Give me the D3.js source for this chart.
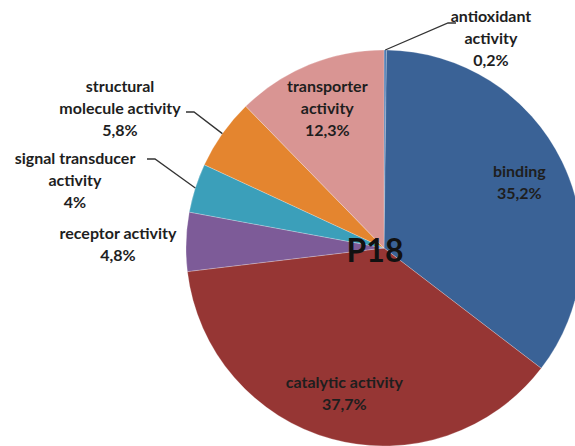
<!DOCTYPE html>
<html><head><meta charset="utf-8">
<script src="https://cdn.jsdelivr.net/npm/d3@7"></script>
<style>
html,body{margin:0;padding:0;background:#fff;overflow:hidden}
text{font-family:Lato,"Open Sans",sans-serif;font-weight:700;fill:#1e1e1e}
</style></head><body>
<svg id="c" width="575" height="446"></svg>
<script>
const categories = ["antioxidant activity","binding","catalytic activity","receptor activity","signal transducer activity","structural molecule activity","transporter activity"];
const values = [0.2, 35.2, 37.7, 4.8, 4, 5.8, 12.3];
const valueLabels = ["0,2%","35,2%","37,7%","4,8%","4%","5,8%","12,3%"];
const colors = ["#4a78b0","#3a6296","#963634","#7d5b98","#3b9fba","#e4852f","#d99593"];
const title = "P18";

// label layout (style, not data)
const labelLines = [
  ["antioxidant","activity"],["binding"],["catalytic activity"],["receptor activity"],
  ["signal transducer","activity"],["structural","molecule activity"],["transporter","activity"]
];
const outside = {
  0:{x:491,y:16, elbow:[448,23]},
  3:{x:118,y:233},
  4:{x:75,y:158, elbow:[147,159], hx:155},
  5:{x:120,y:86, elbow:[186,112], hx:194}
};

const svg = d3.select("#c");
const cx = 384, cy = 248, r = 198;
const g = svg.append("g").attr("transform",`translate(${cx},${cy})`);
const pie = d3.pie().sort(null).value(d=>d)(values);
const arc = d3.arc().innerRadius(0).outerRadius(r);
g.selectAll("path").data(pie).join("path")
  .attr("d",arc).attr("fill",(d,i)=>colors[i])
  .attr("stroke","#fff").attr("stroke-width",0.4).attr("stroke-opacity",0.6);

const lh = 22;
const fs = 16;
// inside labels
const inArc = d3.arc().innerRadius(r*0.76).outerRadius(r*0.76);
[1,2,6].forEach(i=>{
  const [x,y] = inArc.centroid(pie[i]);
  const lines = labelLines[i].concat([valueLabels[i]]);
  const y0 = y - (lines.length-1)*lh/2;
  const t = g.append("text").attr("text-anchor","middle").attr("font-size",fs);
  lines.forEach((s,k)=>t.append("tspan").attr("x",x).attr("y",y0+k*lh).attr("dy","0.35em").text(s));
});
// outside labels
Object.keys(outside).forEach(key=>{
  const i=+key, o=outside[i];
  const lines = labelLines[i].concat([valueLabels[i]]);
  const t = svg.append("text").attr("text-anchor","middle").attr("font-size",fs);
  lines.forEach((s,k)=>t.append("tspan").attr("x",o.x).attr("y",o.y+k*lh).attr("dy","0.35em").text(s));
  if(o.elbow){
    const a = (pie[i].startAngle+pie[i].endAngle)/2;
    const ex = cx + Math.sin(a)*r, ey = cy - Math.cos(a)*r;
    let pts;
    if(o.hx!==undefined) pts=[o.elbow,[o.hx,o.elbow[1]],[ex,ey]];
    else pts=[[o.elbow[0]+8,o.elbow[1]],o.elbow,[ex,ey]];
    svg.append("path").attr("d",d3.line()(pts)).attr("fill","none").attr("stroke","#333").attr("stroke-width",1.3);
  }
});
svg.append("text").attr("x",375).attr("y",251).attr("dy","0.35em").attr("text-anchor","middle")
  .attr("font-size",32).style("fill","#111").text(title);
</script></body></html>
